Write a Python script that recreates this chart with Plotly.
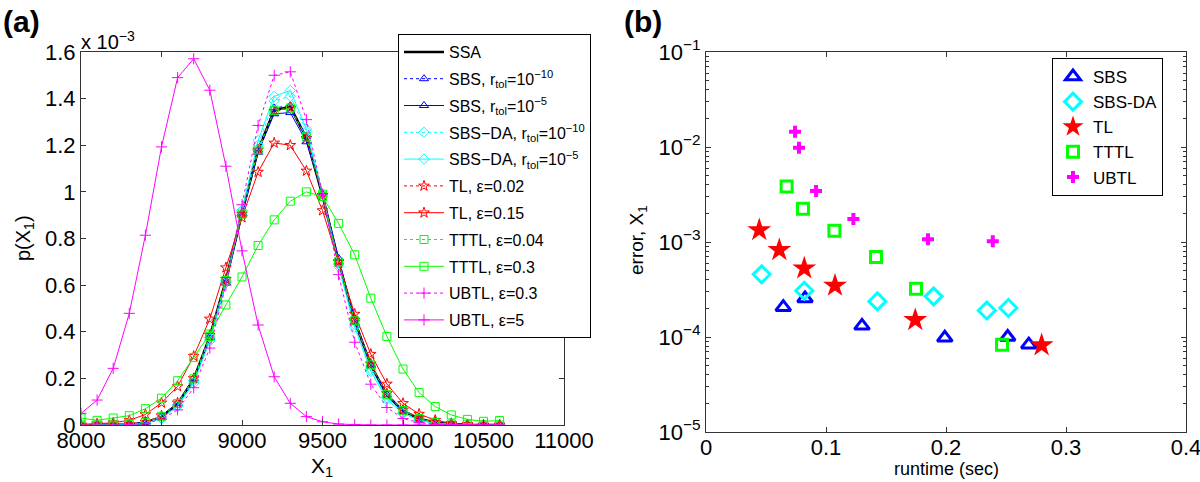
import plotly.graph_objects as go

# ---------------- data: panel (a) ----------------
x1_vals = [8000, 8100, 8200, 8300, 8400, 8500, 8600, 8700, 8800, 8900, 9000, 9100, 9200, 9300,
           9400, 9500, 9600, 9700, 9800, 9900, 10000, 10100, 10200, 10300, 10400, 10500, 10600]

ssa = [0, 0, 0, 0.002, 0.01, 0.035, 0.09, 0.197, 0.38, 0.62, 0.91, 1.18, 1.35, 1.365, 1.23, 0.985,
       0.70, 0.445, 0.257, 0.128, 0.061, 0.027, 0.011, 0.004, 0.001, 0, 0]
sbs_1e10 = [0, 0, 0, 0.002, 0.01, 0.036, 0.092, 0.2, 0.38, 0.62, 0.91, 1.18, 1.36, 1.37, 1.24, 0.99,
            0.70, 0.44, 0.255, 0.13, 0.06, 0.026, 0.01, 0.004, 0.001, 0, 0]
sbs_1e5 = [0, 0, 0, 0.002, 0.011, 0.038, 0.095, 0.2, 0.375, 0.61, 0.9, 1.17, 1.335, 1.34, 1.215, 0.99,
           0.715, 0.455, 0.26, 0.13, 0.06, 0.026, 0.01, 0.004, 0.001, 0, 0]
sbsda_1e10 = [0, 0, 0, 0.001, 0.008, 0.03, 0.085, 0.19, 0.375, 0.62, 0.92, 1.2, 1.39, 1.41, 1.26, 0.99,
              0.69, 0.43, 0.24, 0.118, 0.053, 0.022, 0.008, 0.003, 0.001, 0, 0]
sbsda_1e5 = [0, 0, 0, 0.001, 0.007, 0.028, 0.08, 0.18, 0.36, 0.61, 0.92, 1.22, 1.41, 1.435, 1.27, 0.99,
             0.68, 0.42, 0.23, 0.11, 0.05, 0.02, 0.007, 0.002, 0, 0, 0]
tl_002 = [0, 0, 0, 0.003, 0.012, 0.04, 0.095, 0.2, 0.385, 0.625, 0.905, 1.18, 1.345, 1.36, 1.23, 0.985,
          0.70, 0.45, 0.262, 0.135, 0.064, 0.029, 0.012, 0.004, 0.001, 0, 0]
tl_015 = [0, 0.005, 0.01, 0.02, 0.045, 0.095, 0.165, 0.295, 0.455, 0.675, 0.89, 1.085, 1.21, 1.2, 1.09,
          0.92, 0.70, 0.476, 0.304, 0.176, 0.093, 0.047, 0.021, 0.007, 0.002, 0, 0]
tttl_004 = [0, 0, 0, 0.002, 0.011, 0.037, 0.092, 0.198, 0.38, 0.62, 0.905, 1.18, 1.35, 1.36, 1.235, 0.99,
            0.70, 0.447, 0.258, 0.13, 0.062, 0.028, 0.011, 0.004, 0.001, 0, 0]
tttl_03 = [0.03, 0.02, 0.03, 0.04, 0.07, 0.115, 0.19, 0.29, 0.39, 0.515, 0.635, 0.77, 0.88, 0.96, 1.0,
           0.98, 0.865, 0.73, 0.544, 0.38, 0.24, 0.139, 0.079, 0.043, 0.024, 0.016, 0.019]
ubtl_03 = [0, 0, 0, 0.001, 0.006, 0.025, 0.065, 0.16, 0.33, 0.6, 0.945, 1.285, 1.5, 1.515, 1.31, 0.99,
           0.645, 0.355, 0.175, 0.075, 0.028, 0.01, 0.003, 0.001, 0, 0, 0]
ubtl_5 = [0.05, 0.107, 0.243, 0.479, 0.814, 1.193, 1.49, 1.571, 1.436, 1.11, 0.747, 0.429, 0.207, 0.093,
          0.036, 0.014, 0.004, 0.001, 0, 0, 0, 0, 0, 0, 0, 0, 0]

# ---------------- data: panel (b) ----------------
sbs_rt = [0.0644, 0.0825, 0.130, 0.199, 0.2514, 0.269]
sbs_err = [2.06e-4, 2.55e-4, 1.31e-4, 9.8e-5, 1.0e-4, 8.3e-5]
sbsda_rt = [0.0464, 0.0819, 0.1428, 0.1897, 0.234, 0.252]
sbsda_err = [4.57e-4, 3.07e-4, 2.37e-4, 2.68e-4, 1.9e-4, 2.02e-4]
tl_rt = [0.0444, 0.0611, 0.0819, 0.1075, 0.1744, 0.2797]
tl_err = [1.337e-3, 8.24e-4, 5.28e-4, 3.47e-4, 1.51e-4, 8.2e-5]
tttl_rt = [0.0672, 0.0808, 0.107, 0.1417, 0.175, 0.2467]
tttl_err = [3.85e-3, 2.24e-3, 1.316e-3, 6.95e-4, 3.23e-4, 8.3e-5]
ubtl_rt = [0.0742, 0.0775, 0.0917, 0.1228, 0.185, 0.239]
ubtl_err = [1.449e-2, 9.84e-3, 3.44e-3, 1.746e-3, 1.066e-3, 1.016e-3]

ya_ticks = [0, 0.2, 0.4, 0.6, 0.8, 1.0, 1.2, 1.4, 1.6]
ya_labels = ["0", "0.2", "0.4", "0.6", "0.8", "1", "1.2", "1.4", "1.6"]
xa_ticks = [8000, 8500, 9000, 9500, 10000, 10500, 11000]
xa_labels = ["8000", "8500", "9000", "9500", "10000", "10500", "11000"]
yb_ticks = [1e-5, 1e-4, 1e-3, 1e-2, 1e-1]
yb_labels = ["10<sup>−5</sup>", "10<sup>−4</sup>", "10<sup>−3</sup>", "10<sup>−2</sup>", "10<sup>−1</sup>"]
yb_minor = [m * 10.0 ** e for e in range(-5, -1) for m in range(2, 10)]
xb_ticks = [0, 0.1, 0.2, 0.3, 0.4]
xb_labels = ["0", "0.1", "0.2", "0.3", "0.4"]

BLUE, CYAN, RED, GREEN, MAG = "#0000ff", "#00ffff", "#ff0000", "#00ff00", "#ff00ff"
FONT = "Liberation Sans, Arial, sans-serif"
AXC = "#333333"
W, H = 1200, 482


def px(x):
    return x / W


def py(y):
    return (H - y) / H


fig = go.Figure()

series_a = [
    ("SSA", ssa, "black", "solid", None, 2.5),
    ("SBS, r<sub>tol</sub>=10<sup>−10</sup>", sbs_1e10, BLUE, "dot", "triangle-up-open", 1),
    ("SBS, r<sub>tol</sub>=10<sup>−5</sup>", sbs_1e5, BLUE, "solid", "triangle-up-open", 1),
    ("SBS−DA, r<sub>tol</sub>=10<sup>−10</sup>", sbsda_1e10, CYAN, "dot", "diamond-open", 1),
    ("SBS−DA, r<sub>tol</sub>=10<sup>−5</sup>", sbsda_1e5, CYAN, "solid", "diamond-open", 1),
    ("TL, ε=0.02", tl_002, RED, "dot", "star-open", 1),
    ("TL, ε=0.15", tl_015, RED, "solid", "star-open", 1),
    ("TTTL, ε=0.04", tttl_004, GREEN, "dot", "square-open", 1),
    ("TTTL, ε=0.3", tttl_03, GREEN, "solid", "square-open", 1),
    ("UBTL, ε=0.3", ubtl_03, MAG, "dot", "cross-thin-open", 1),
    ("UBTL, ε=5", ubtl_5, MAG, "solid", "cross-thin-open", 1),
]

for i, (name, vals, col, dash, sym, lw) in enumerate(series_a):
    kw = dict(mode="lines")
    if sym:
        kw = dict(mode="lines+markers",
                  marker=dict(symbol=sym, size=8, color=col, line=dict(color=col, width=1)))
    fig.add_trace(go.Scatter(
        x=x1_vals, y=vals, name=name, legend="legend", legendgroup="a%d" % i,
        line=dict(color=col, width=lw, dash=dash), xaxis="x", yaxis="y", **kw))

series_b = [
    ("SBS", sbs_rt, sbs_err, BLUE, "triangle-up-open", 13, 3),
    ("SBS-DA", sbsda_rt, sbsda_err, CYAN, "diamond-open", 13, 3),
    ("TL", tl_rt, tl_err, RED, "star", 18, 0),
    ("TTTL", tttl_rt, tttl_err, GREEN, "square-open", 11, 3),
    ("UBTL", ubtl_rt, ubtl_err, MAG, "cross", 10, 0),
]
for i, (name, xs, ys, col, sym, sz, lw) in enumerate(series_b):
    fig.add_trace(go.Scatter(
        x=xs, y=ys, name=name, mode="markers", legend="legend2",
        marker=dict(symbol=sym, size=sz, color=col, line=dict(color=col, width=lw)),
        xaxis="x2", yaxis="y2"))

axis_common = dict(showline=True, linecolor=AXC, linewidth=1, mirror="allticks",
                   ticks="inside", ticklen=5, tickcolor=AXC, showgrid=False, zeroline=False,
                   automargin=False, tickmode="array", ticklabeloverflow="allow",
                   tickfont=dict(family=FONT, size=22, color="black"))

fig.update_layout(
    width=W, height=H,
    margin=dict(l=0, r=0, t=0, b=0, autoexpand=False),
    paper_bgcolor="white", plot_bgcolor="white",
    font=dict(family=FONT, color="black"),
    xaxis=dict(domain=[px(81), px(564)], range=[8000, 11000], ticklabelstandoff=-4,
               tickvals=xa_ticks, ticktext=xa_labels, anchor="y", **axis_common),
    yaxis=dict(domain=[py(425), py(52)], range=[0, 1.6],
               tickvals=ya_ticks, ticktext=ya_labels, anchor="x", **axis_common),
    xaxis2=dict(domain=[px(706), px(1186)], range=[0, 0.4], ticklabelstandoff=-4,
                tickvals=xb_ticks, ticktext=xb_labels, anchor="y2", **axis_common),
    yaxis2=dict(domain=[py(432), py(52)], type="log", range=[-5, -1],
                tickvals=yb_ticks, ticktext=yb_labels, anchor="x2",
                minor=dict(tickmode="array", tickvals=yb_minor, ticks="inside", ticklen=3,
                           tickcolor=AXC, showgrid=False),
                **axis_common),
    legend=dict(x=px(398), y=py(34), xanchor="left", yanchor="top",
                bgcolor="white", bordercolor="black", borderwidth=1,
                font=dict(family=FONT, size=16, color="black"), itemwidth=40,
                traceorder="grouped", tracegroupgap=3),
    legend2=dict(x=px(1052), y=py(58), xanchor="left", yanchor="top",
                 bgcolor="white", bordercolor="black", borderwidth=1,
                 font=dict(family=FONT, size=17, color="black"), itemwidth=30),
    showlegend=True,
)

ann = [
    dict(text="<b>(a)</b>", x=px(1), y=py(22), xanchor="left", yanchor="middle", size=30),
    dict(text="<b>(b)</b>", x=px(622), y=py(22), xanchor="left", yanchor="middle", size=30),
    dict(text="x 10<sup>−3</sup>", x=px(79), y=py(40), xanchor="left", yanchor="middle", size=20),
    dict(text="p(X<sub>1</sub>)", x=px(24), y=py(238), textangle=-90,
         xanchor="center", yanchor="middle", size=20),
    dict(text="X<sub>1</sub>", x=px(322), y=py(467), xanchor="center", yanchor="middle", size=21),
    dict(text="error, X<sub>1</sub>", x=px(638), y=py(240), textangle=-90,
         xanchor="center", yanchor="middle", size=19),
    dict(text="runtime (sec)", x=px(946), y=py(469), xanchor="center", yanchor="middle", size=18),
]
out = []
for a in ann:
    s = a.pop("size")
    a.update(xref="paper", yref="paper", showarrow=False,
             font=dict(family=FONT, color="black", size=s))
    out.append(a)
fig.update_layout(annotations=out)

# the page's default 8px body margin would shift the figure; remove it
fig.write_html("out.html", config={"displayModeBar": False},
               post_script="document.body.style.margin='0px';")
